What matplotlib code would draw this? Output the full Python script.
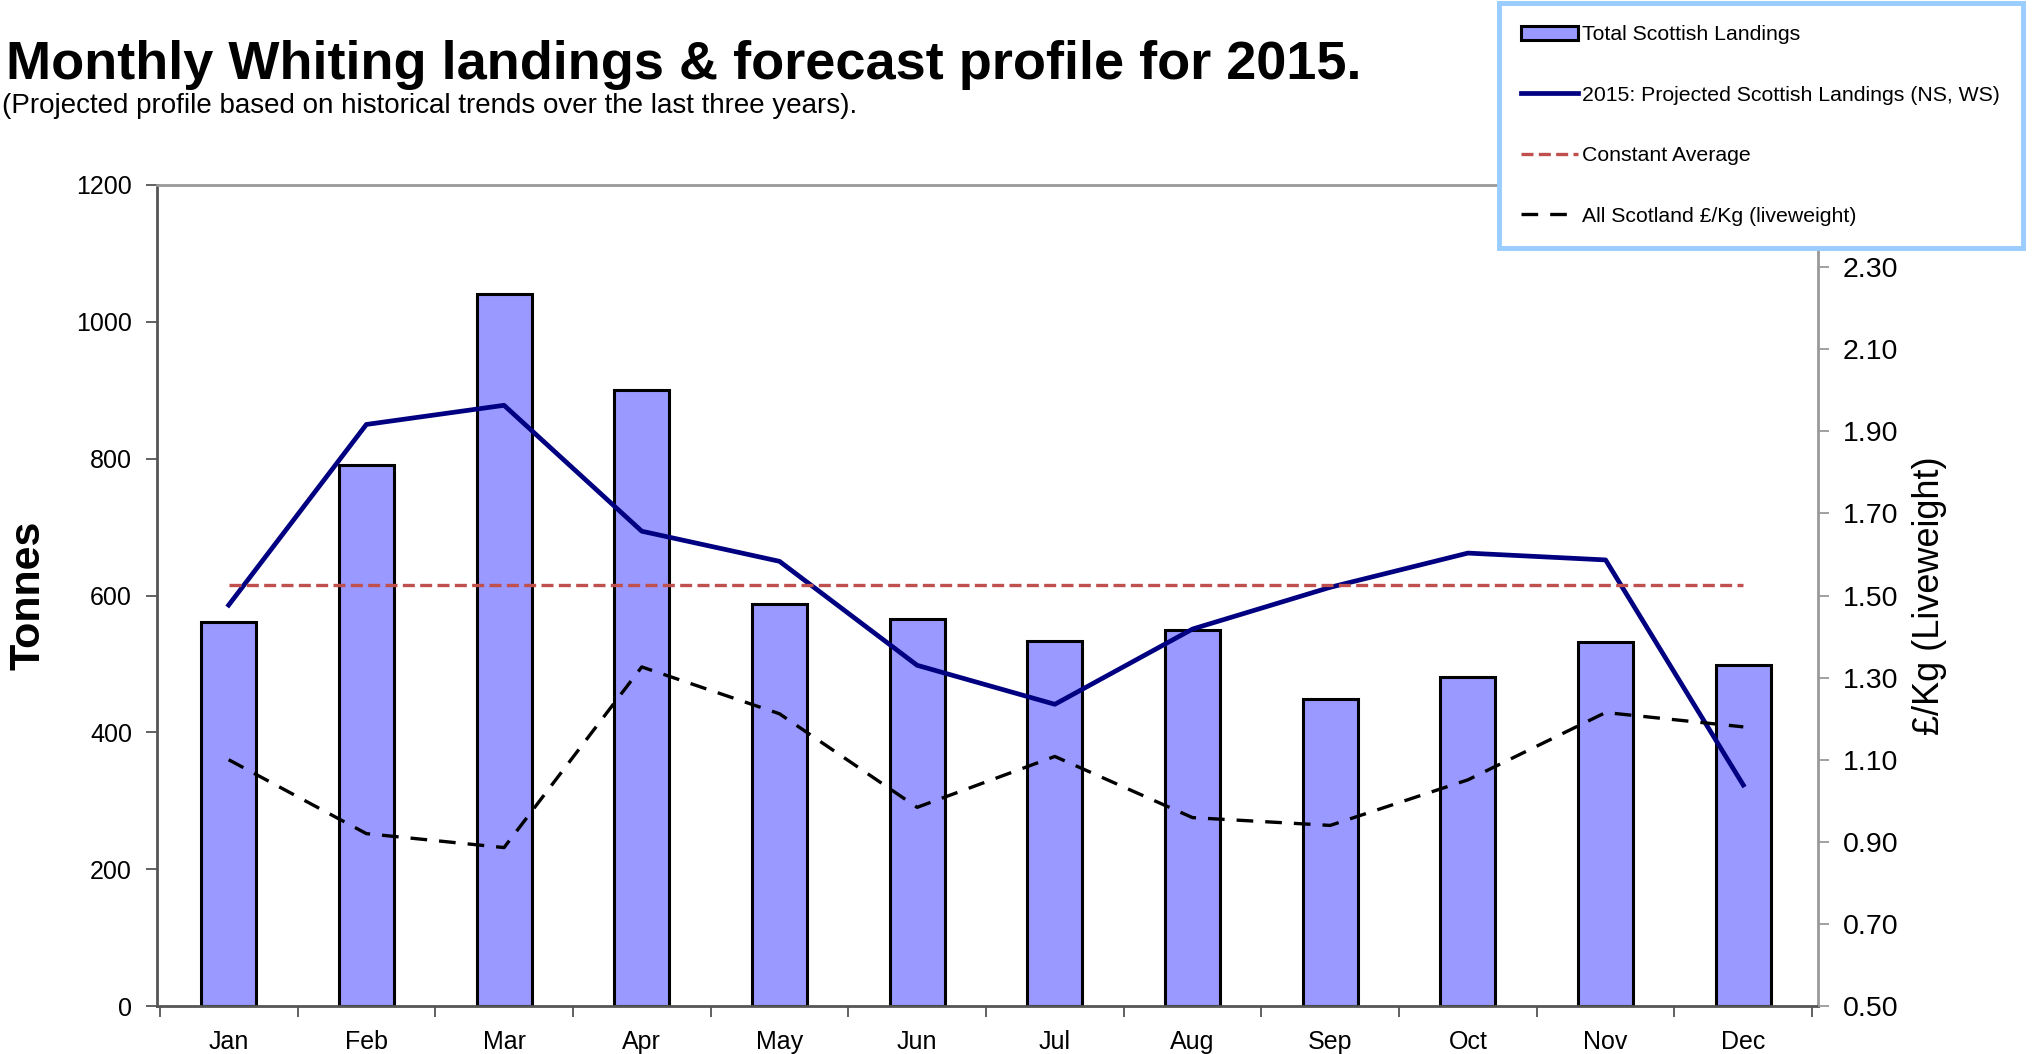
import numpy as np
import matplotlib
matplotlib.use("Agg")
import matplotlib.pyplot as plt

plt.rcParams['font.family'] = ['Liberation Sans', 'DejaVu Sans']

months = ['Jan', 'Feb', 'Mar', 'Apr', 'May', 'Jun', 'Jul', 'Aug', 'Sep', 'Oct', 'Nov', 'Dec']
# tonnes, left axis
total_landings = [561, 791, 1040, 901, 587, 566, 534, 549, 449, 481, 532, 498]
projected_2015 = [586, 850, 878, 694, 650, 498, 441, 551, 612, 662, 652, 323]
constant_avg = [616] * 12
# £/kg, right axis
price_per_kg = [1.10, 0.92, 0.886, 1.326, 1.212, 0.984, 1.108, 0.959, 0.940, 1.051, 1.215, 1.180]

left_ticks = [0, 200, 400, 600, 800, 1000, 1200]
# 2.50 sits under the legend box in the original, so it is left out
right_ticks = [0.5, 0.7, 0.9, 1.1, 1.3, 1.5, 1.7, 1.9, 2.1, 2.3]

fig = plt.figure(figsize=(20.4, 10.54), dpi=100)
ax1 = fig.add_axes([0.077, 0.0455, 0.814, 0.779])
x = np.arange(len(months))

bars = ax1.bar(x, total_landings, width=0.4, color='#9999FF', edgecolor='black',
               linewidth=2.2, label='Total Scottish Landings', zorder=2)
proj, = ax1.plot(x, projected_2015, color='#000080', linewidth=3.4,
                 label='2015: Projected Scottish Landings (NS, WS)', zorder=3)
avg, = ax1.plot(x, constant_avg, color='#C0504D', linewidth=2.4, dashes=(3.6, 1.6),
                label='Constant Average', zorder=3)

ax1.set_xlim(-0.52, 11.54)
ax1.set_ylim(0, 1200)
ax1.set_yticks(left_ticks)
ax1.set_xticks(x)
ax1.set_xticklabels(months, fontsize=18)
ax1.set_xticks(np.arange(-0.5, 12, 1), minor=True)
ax1.tick_params(axis='x', which='major', length=0, pad=17)
ax1.tick_params(axis='x', which='minor', length=8, width=1.3, color='#555555')
ax1.tick_params(axis='y', labelsize=18, length=8, width=1.3, color='#555555', pad=10)
ax1.set_ylabel('Tonnes', fontsize=31, fontweight='bold', labelpad=20)

for side in ['left', 'bottom']:
    ax1.spines[side].set_color('#555555')
    ax1.spines[side].set_linewidth(2)
for side in ['top', 'right']:
    ax1.spines[side].set_color('#999999')
    ax1.spines[side].set_linewidth(2)

ax2 = ax1.twinx()
price, = ax2.plot(x, price_per_kg, color='black', linewidth=2.4, dashes=(5, 3.6),
                  label='All Scotland £/Kg (liveweight)', zorder=3)
ax2.set_ylim(0.5, 2.5)
ax2.set_yticks(right_ticks)
ax2.set_yticklabels([f'{v:.2f}' for v in right_ticks])
ax2.tick_params(axis='y', labelsize=20.5, length=8, width=1.3, color='#999999', pad=10)
ax2.set_ylabel('£/Kg (Liveweight)', fontsize=26, labelpad=10)
for side in ['left', 'right', 'top', 'bottom']:
    ax2.spines[side].set_visible(False)

fig.text(0.003, 0.925, 'Monthly Whiting landings & forecast profile for 2015.',
         fontsize=39, fontweight='bold', va='baseline', ha='left')
fig.text(0.001, 0.893, '(Projected profile based on historical trends over the last three years).',
         fontsize=20, va='baseline', ha='left')

leg = fig.legend([bars, proj, avg, price],
                 ['Total Scottish Landings', '2015: Projected Scottish Landings (NS, WS)',
                  'Constant Average', 'All Scotland £/Kg (liveweight)'],
                 loc='upper right', bbox_to_anchor=(0.9915, 0.997), fontsize=15.3,
                 frameon=True, fancybox=False, framealpha=1, handlelength=2.7,
                 handletextpad=0.2, labelspacing=1.95, borderpad=1.05, borderaxespad=0)
leg.get_frame().set_edgecolor('#99CCFF')
leg.get_frame().set_linewidth(3.5)
leg.set_zorder(10)

fig.savefig('out.png', dpi=100)
